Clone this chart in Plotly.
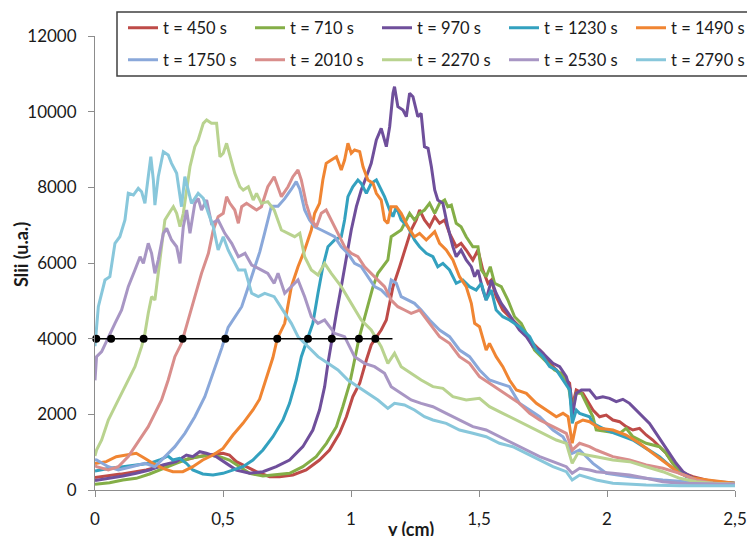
import plotly.graph_objects as go

# ---------------- data ----------------
times = ["450", "710", "970", "1230", "1490", "1750", "2010", "2270", "2530", "2790"]
colors = ["#BE4B48", "#84AE47", "#6F4F9B", "#33A1BF", "#F08532",
          "#8AA8DA", "#D98E8C", "#B9D38F", "#A896C4", "#88C7DB"]

x_450 = [0, 0.1, 0.2, 0.3, 0.35, 0.4, 0.45, 0.50, 0.525, 0.552, 0.591, 0.63, 0.682, 0.721, 0.773, 0.825, 0.877, 0.916,
         0.955, 0.982, 1.007, 1.034, 1.06, 1.079, 1.095, 1.118, 1.138, 1.164, 1.19, 1.216, 1.235, 1.255, 1.268, 1.287,
         1.307, 1.327, 1.346, 1.366, 1.385, 1.411, 1.43, 1.45, 1.476, 1.496, 1.515, 1.535, 1.548, 1.567, 1.593, 1.619,
         1.646, 1.672, 1.698, 1.724, 1.75, 1.776, 1.802, 1.828, 1.854, 1.864, 1.88, 1.906, 1.945, 1.971, 1.997, 2.023,
         2.049, 2.075, 2.101, 2.127, 2.153, 2.179, 2.205, 2.231, 2.257, 2.284, 2.336, 2.414, 2.5]
y_450 = [330, 420, 530, 700, 800, 880, 930, 970, 925, 749, 616, 484, 352, 352, 396, 529, 793, 1057,
         1498, 1937, 2466, 2820, 3436, 3832, 4000, 4229, 4493, 5374, 5902, 6430, 6872, 7136, 7400, 7136,
         6959, 7224, 7049, 7136, 6784, 6430, 6520, 6343, 6079, 6343, 5815, 5463, 5550, 5110, 4757, 4581,
         4405, 4229, 3964, 3788, 3613, 3348, 3172, 2995, 2820, 2202, 2643, 2555, 2114, 1937, 1982, 1850,
         1806, 1674, 1586, 1630, 1454, 1321, 1145, 970, 705, 484, 352, 220, 170]

x_710 = [0, 0.057, 0.109, 0.161, 0.213, 0.265, 0.317, 0.37, 0.409, 0.448, 0.487, 0.525, 0.565, 0.604, 0.656, 0.708,
         0.76, 0.812, 0.864, 0.904, 0.943, 0.968, 0.995, 1.014, 1.031, 1.047, 1.066, 1.086, 1.105, 1.125, 1.144, 1.157,
         1.177, 1.196, 1.216, 1.229, 1.248, 1.268, 1.287, 1.307, 1.327, 1.346, 1.366, 1.378, 1.392, 1.411, 1.43, 1.45,
         1.476, 1.496, 1.509, 1.528, 1.544, 1.561, 1.587, 1.613, 1.639, 1.665, 1.691, 1.717, 1.743, 1.769, 1.795, 1.822,
         1.848, 1.864, 1.88, 1.9, 1.919, 1.945, 1.958, 1.997, 2.049, 2.075, 2.101, 2.153, 2.205, 2.231, 2.257, 2.284,
         2.336, 2.414, 2.5]
y_710 = [150, 193, 264, 309, 423, 573, 705, 837, 881, 925, 881, 793, 616, 441, 370, 396,
         441, 616, 881, 1234, 1674, 2202, 2820, 3436, 4000, 4405, 4845, 5374, 5727, 5902, 6079, 6695,
         6784, 6872, 7136, 7313, 7136, 7313, 7400, 7577, 7313, 7577, 7665, 7488, 7532, 7049, 6959, 6695,
         6430, 6430, 5815, 5638, 5902, 5463, 5374, 5022, 4581, 4405, 4052, 3700, 3524, 3348, 3172, 3084,
         2820, 2114, 2555, 2555, 2291, 1937, 1586, 1542, 1498, 1630, 1409, 1234, 1145, 970, 705, 484,
         309, 220, 170]

x_970 = [0, 0.057, 0.109, 0.161, 0.213, 0.265, 0.317, 0.357, 0.382, 0.409, 0.435, 0.474, 0.513, 0.552, 0.604, 0.656,
         0.708, 0.76, 0.812, 0.851, 0.877, 0.897, 0.91, 0.925, 0.943, 0.962, 0.982, 1.001, 1.021, 1.04, 1.06, 1.079,
         1.099, 1.118, 1.138, 1.151, 1.164, 1.17, 1.183, 1.203, 1.216, 1.229, 1.242, 1.261, 1.274, 1.287, 1.301, 1.314,
         1.327, 1.339, 1.359, 1.378, 1.398, 1.411, 1.43, 1.45, 1.47, 1.483, 1.496, 1.515, 1.528, 1.548, 1.567, 1.587,
         1.606, 1.632, 1.658, 1.685, 1.711, 1.737, 1.763, 1.789, 1.815, 1.841, 1.857, 1.864, 1.88, 1.9, 1.932, 1.958,
         1.984, 2.01, 2.036, 2.062, 2.088, 2.114, 2.14, 2.166, 2.192, 2.218, 2.244, 2.27, 2.297, 2.336, 2.388, 2.5]
y_970 = [250, 309, 370, 441, 529, 661, 749, 925, 881, 1012, 970, 881, 705, 529, 441, 484,
         616, 793, 1145, 1586, 2114, 2731, 3348, 4000, 4670, 5374, 6166, 6872, 7488, 7929, 8281, 8634,
         9250, 9560, 9074, 9603, 10485, 10660, 10131, 10043, 9867, 10485, 10395, 9867, 9956, 9074, 9030, 8545,
         7929, 7665, 7577, 6959, 6430, 6166, 6343, 6079, 5902, 5638, 5815, 5286, 5022, 5550, 5199, 4934,
         4757, 4493, 4229, 4052, 3788, 3700, 3524, 3348, 3259, 2995, 2643, 1937, 2555, 2643, 2643, 2423,
         2466, 2423, 2334, 2397, 2291, 2114, 1937, 1762, 1498, 1234, 970, 705, 484, 309, 220, 180]

x_1230 = [0, 0.057, 0.109, 0.161, 0.213, 0.252, 0.285, 0.304, 0.33, 0.357, 0.382, 0.421, 0.461, 0.50, 0.539, 0.578,
          0.617, 0.656, 0.695, 0.734, 0.76, 0.786, 0.806, 0.832, 0.851, 0.871, 0.89, 0.91, 0.936, 0.962, 0.975, 0.988,
          1.007, 1.027, 1.04, 1.06, 1.079, 1.099, 1.112, 1.131, 1.151, 1.164, 1.177, 1.196, 1.222, 1.248, 1.268, 1.294,
          1.32, 1.339, 1.359, 1.385, 1.411, 1.437, 1.463, 1.489, 1.509, 1.528, 1.548, 1.567, 1.593, 1.619, 1.658, 1.698,
          1.724, 1.75, 1.776, 1.802, 1.828, 1.854, 1.864, 1.88, 1.893, 1.932, 1.945, 1.997, 2.049, 2.101, 2.153, 2.205,
          2.257, 2.31, 2.362, 2.5]
y_1230 = [500, 573, 616, 661, 705, 793, 899, 793, 837, 705, 529, 423, 396, 441, 529, 616,
          793, 1057, 1409, 1850, 2291, 2907, 3524, 4000, 4405, 5199, 5902, 6430, 6608, 6695, 7136, 7753,
          8016, 8193, 8106, 7842, 8106, 8193, 8016, 7753, 7400, 7224, 7488, 7136, 6959, 6608, 6430, 6256,
          6166, 5902, 5991, 5815, 5463, 5550, 5374, 5286, 5463, 5022, 5286, 4757, 4581, 4493, 4316, 4052,
          3700, 3524, 3259, 3172, 2907, 2643, 1762, 2114, 2026, 1937, 1762, 1586, 1454, 1321, 1100, 881,
          573, 352, 264, 180]

x_1490 = [0, 0.044, 0.083, 0.122, 0.161, 0.194, 0.226, 0.265, 0.304, 0.343, 0.382, 0.421, 0.461, 0.50, 0.539, 0.578,
          0.617, 0.643, 0.669, 0.695, 0.712, 0.741, 0.767, 0.793, 0.819, 0.845, 0.858, 0.877, 0.89, 0.903, 0.923, 0.943,
          0.962, 0.975, 0.988, 1.001, 1.014, 1.034, 1.047, 1.066, 1.086, 1.099, 1.118, 1.131, 1.144, 1.157, 1.177, 1.196,
          1.222, 1.248, 1.268, 1.294, 1.327, 1.346, 1.372, 1.398, 1.424, 1.45, 1.47, 1.483, 1.502, 1.528, 1.541, 1.567,
          1.593, 1.619, 1.646, 1.685, 1.724, 1.763, 1.802, 1.828, 1.848, 1.864, 1.88, 1.906, 1.932, 1.971, 2.023, 2.075,
          2.127, 2.179, 2.231, 2.284, 2.336, 2.388, 2.5]
y_1490 = [700, 749, 881, 925, 970, 837, 705, 573, 484, 484, 616, 793, 925, 1100, 1454, 1762,
          2114, 2400, 2950, 3500, 4000, 4405, 5374, 5902, 6343, 6872, 7313, 7577, 8193, 8634, 8722, 8809,
          8458, 8722, 9163, 8899, 8986, 8942, 8545, 8193, 8106, 7842, 7665, 7136, 7049, 7488, 7488, 7313,
          6959, 6695, 6784, 6608, 6827, 6520, 6343, 6079, 5638, 5374, 4934, 4405, 4316, 3700, 3877, 3524,
          3259, 2907, 2643, 2555, 2291, 2114, 1937, 2026, 1937, 1234, 1762, 1850, 1806, 1630, 1586, 1454,
          1234, 970, 705, 441, 309, 264, 180]

x_1750 = [0, 0.006, 0.052, 0.091, 0.143, 0.195, 0.234, 0.273, 0.312, 0.351, 0.39, 0.429, 0.468, 0.495, 0.52, 0.546,
          0.573, 0.599, 0.625, 0.644, 0.663, 0.689, 0.715, 0.741, 0.767, 0.786, 0.80, 0.819, 0.838, 0.858, 0.884, 0.91,
          0.936, 0.962, 0.988, 1.014, 1.04, 1.066, 1.092, 1.118, 1.144, 1.157, 1.177, 1.196, 1.222, 1.248, 1.274, 1.307,
          1.346, 1.385, 1.424, 1.463, 1.502, 1.541, 1.58, 1.619, 1.658, 1.698, 1.737, 1.789, 1.828, 1.864, 1.893, 1.932,
          1.945, 1.997, 2.088, 2.218, 2.349, 2.5]
y_1750 = [800, 793, 616, 529, 616, 705, 616, 881, 1145, 1498, 1937, 2466, 3200, 3750, 4300, 4581,
          4845, 5374, 5900, 6300, 6800, 7500, 7500, 7700, 7950, 8150, 7950, 7400, 7136, 6959, 6872, 6784,
          6695, 6430, 6256, 5991, 5902, 5638, 5374, 5286, 5110, 5550, 5463, 5110, 5022, 4934, 4757, 4493,
          4229, 4052, 3700, 3524, 3172, 2907, 2820, 2731, 2291, 2114, 1937, 1586, 1409, 970, 1057, 793,
          705, 441, 352, 264, 200, 150]

x_2010 = [0, 0.006, 0.052, 0.091, 0.13, 0.156, 0.182, 0.208, 0.234, 0.26, 0.286, 0.312, 0.338, 0.364, 0.39, 0.416,
          0.443, 0.462, 0.481, 0.501, 0.514, 0.527, 0.546, 0.56, 0.573, 0.592, 0.612, 0.631, 0.65, 0.675, 0.70, 0.728,
          0.754, 0.773, 0.793, 0.806, 0.825, 0.845, 0.865, 0.884, 0.903, 0.923, 0.949, 0.975, 1.001, 1.027, 1.053, 1.079,
          1.105, 1.131, 1.157, 1.183, 1.209, 1.235, 1.268, 1.307, 1.346, 1.385, 1.424, 1.463, 1.502, 1.541, 1.58, 1.619,
          1.658, 1.698, 1.737, 1.789, 1.841, 1.864, 1.893, 1.932, 1.958, 2.023, 2.088, 2.153, 2.218, 2.284, 2.349, 2.414,
          2.5]
y_2010 = [650, 616, 529, 616, 881, 1145, 1409, 1674, 2026, 2379, 2907, 3524, 3877, 4493, 5110, 5727,
          6256, 6872, 7224, 7313, 7753, 7577, 7400, 7049, 7488, 7577, 7488, 7400, 7488, 8016, 8281, 7753,
          8016, 8281, 8458, 8193, 7577, 7136, 6959, 7313, 7400, 7136, 6784, 6430, 6256, 6166, 5902, 5727,
          5550, 5374, 5022, 4845, 4757, 4670, 4757, 4405, 4052, 3877, 3524, 3348, 2995, 2820, 2643, 2466,
          2291, 2026, 1850, 1674, 1498, 1057, 1234, 1145, 1057, 881, 793, 661, 573, 441, 264, 177,
          150]

x_2270 = [0, 0.006, 0.026, 0.052, 0.078, 0.104, 0.13, 0.156, 0.182, 0.195, 0.208, 0.221, 0.234, 0.247, 0.26, 0.273,
          0.293, 0.306, 0.319, 0.332, 0.345, 0.358, 0.371, 0.39, 0.403, 0.423, 0.436, 0.455, 0.475, 0.488, 0.501, 0.514,
          0.527, 0.546, 0.566, 0.579, 0.599, 0.618, 0.631, 0.65, 0.675, 0.70, 0.728, 0.754, 0.78, 0.80, 0.819, 0.845,
          0.871, 0.897, 0.923, 0.962, 1.001, 1.04, 1.079, 1.118, 1.144, 1.17, 1.196, 1.235, 1.274, 1.32, 1.359, 1.398,
          1.45, 1.502, 1.541, 1.593, 1.646, 1.698, 1.75, 1.802, 1.841, 1.864, 1.886, 1.932, 1.958, 2.023, 2.088, 2.153,
          2.218, 2.284, 2.349, 2.414, 2.5]
y_2270 = [900, 1057, 1321, 1850, 2202, 2555, 2907, 3259, 3788, 4141, 4670, 5110, 5022, 5727, 6430, 7136,
          7356, 7488, 7313, 6959, 7313, 7929, 8545, 9074, 9250, 9692, 9779, 9692, 9692, 8809, 8899, 9163,
          8809, 8370, 8016, 7929, 8016, 7665, 7842, 7577, 7621, 7400, 6872, 6784, 6695, 6784, 6166, 5815,
          5682, 5991, 5727, 5374, 4934, 4493, 4229, 3788, 3348, 3613, 3259, 3084, 2907, 2731, 2688, 2466,
          2379, 2423, 2202, 2026, 1850, 1674, 1498, 1321, 1234, 705, 970, 925, 881, 793, 749, 616,
          484, 309, 220, 177, 150]

x_2530 = [0, 0.006, 0.026, 0.052, 0.078, 0.104, 0.13, 0.156, 0.176, 0.189, 0.208, 0.221, 0.234, 0.247, 0.267, 0.28,
          0.299, 0.319, 0.332, 0.345, 0.358, 0.371, 0.39, 0.403, 0.416, 0.436, 0.455, 0.481, 0.507, 0.534, 0.56, 0.586,
          0.612, 0.638, 0.65, 0.675, 0.70, 0.715, 0.741, 0.767, 0.793, 0.819, 0.845, 0.871, 0.897, 0.936, 0.975, 1.014,
          1.053, 1.092, 1.131, 1.157, 1.196, 1.235, 1.274, 1.32, 1.372, 1.424, 1.476, 1.528, 1.58, 1.632, 1.685, 1.737,
          1.789, 1.841, 1.864, 1.893, 1.932, 1.958, 2.023, 2.088, 2.153, 2.218, 2.284, 2.414, 2.5]
y_2530 = [2900, 3524, 3656, 4052, 4405, 4757, 5374, 5815, 6166, 5991, 6520, 6256, 5727, 6079, 6784, 6917,
          6608, 6430, 5991, 6959, 7400, 6784, 7577, 7710, 7400, 7665, 7049, 7136, 6784, 6520, 6166, 6256,
          5947, 5859, 5815, 5727, 5463, 5727, 5199, 5374, 5550, 5110, 4581, 4405, 4493, 4141, 4052, 3524,
          3348, 3259, 3084, 2731, 2555, 2379, 2291, 2202, 2026, 1850, 1674, 1586, 1409, 1234, 1057, 881,
          749, 616, 441, 573, 529, 484, 441, 396, 309, 220, 177, 159, 150]

x_2790 = [0, 0.013, 0.039, 0.058, 0.078, 0.097, 0.117, 0.13, 0.15, 0.169, 0.182, 0.195, 0.208, 0.218, 0.228, 0.234,
          0.247, 0.267, 0.286, 0.299, 0.319, 0.332, 0.338, 0.351, 0.364, 0.377, 0.403, 0.423, 0.443, 0.462, 0.481, 0.501,
          0.52, 0.56, 0.586, 0.612, 0.638, 0.663, 0.70, 0.741, 0.767, 0.793, 0.832, 0.871, 0.91, 0.949, 0.988, 1.027,
          1.066, 1.105, 1.144, 1.17, 1.209, 1.248, 1.287, 1.32, 1.372, 1.424, 1.476, 1.528, 1.58, 1.632, 1.685, 1.737,
          1.789, 1.841, 1.864, 1.893, 1.932, 1.958, 2.023, 2.153, 2.284, 2.5]
y_2790 = [3800, 4845, 5550, 5640, 6520, 6695, 7136, 7842, 7797, 7974, 7885, 7577, 8281, 8809, 8193, 7532,
          8281, 8942, 8854, 8634, 8370, 7665, 7488, 8281, 7929, 7577, 7842, 7710, 7313, 6959, 6343, 6695,
          6343, 5815, 5815, 5199, 5110, 5199, 5110, 4670, 4405, 4052, 3788, 3524, 3348, 3172, 2907, 2731,
          2555, 2379, 2158, 2291, 2247, 2114, 1937, 1850, 1762, 1586, 1498, 1409, 1234, 1144, 970, 793,
          616, 484, 264, 396, 309, 264, 177, 132, 114, 110]

# half-maximum positions marked on the black line at 4000
half_level = 4000
half_x = [0.005, 0.063, 0.19, 0.342, 0.509, 0.712, 0.832, 0.925, 1.031, 1.095]
half_line_x = [0, 1.162]

x_ticks = [0, 0.5, 1, 1.5, 2, 2.5]
x_ticktext = ["0", "0,5", "1", "1,5", "2", "2,5"]
y_ticks = [0, 2000, 4000, 6000, 8000, 10000, 12000]
y_ticktext = ["0", "2000", "4000", "6000", "8000", "10000", "12000"]

series_x = [x_450, x_710, x_970, x_1230, x_1490, x_1750, x_2010, x_2270, x_2530, x_2790]
series_y = [y_450, y_710, y_970, y_1230, y_1490, y_1750, y_2010, y_2270, y_2530, y_2790]

FONT = "Lato"
TXT = "#1a1a1a"

fig = go.Figure()
for i, (t, c, xs, ys) in enumerate(zip(times, colors, series_x, series_y)):
    fig.add_trace(go.Scatter(
        x=xs, y=ys, mode="lines", name=f"t = {t} s",
        line=dict(color=c, width=3),
        legend="legend" if i < 5 else "legend2",
    ))

fig.add_trace(go.Scatter(
    x=half_line_x, y=[half_level] * len(half_line_x), mode="lines",
    line=dict(color="black", width=1.5), showlegend=False, hoverinfo="skip"))
fig.add_trace(go.Scatter(
    x=half_x, y=[half_level] * len(half_x), mode="markers",
    marker=dict(color="black", size=8), showlegend=False, cliponaxis=False))

W, H = 747, 536
L, R, T, B = 95, 12, 36, 46
pw, ph = W - L - R, H - T - B


def px_x(p):
    return (p - L) / pw


def px_y(p):
    return (H - B - p) / ph


legend_common = dict(
    orientation="h", xanchor="left", yanchor="middle",
    bgcolor="rgba(0,0,0,0)", borderwidth=0,
    font=dict(family=FONT, size=16.5, color=TXT),
    entrywidth=82, entrywidthmode="pixels", itemwidth=30,
    traceorder="normal",
)

fig.update_layout(
    width=W, height=H,
    margin=dict(l=L, r=R, t=T, b=B, autoexpand=False),
    paper_bgcolor="white", plot_bgcolor="white",
    font=dict(family=FONT, size=17, color=TXT),
    showlegend=True,
    legend=dict(x=px_x(123), y=px_y(28), **legend_common),
    legend2=dict(x=px_x(123), y=px_y(60), **legend_common),
    xaxis=dict(range=[0, 2.5], showgrid=False, zeroline=False,
               showline=True, linecolor="#8c8c8c", linewidth=1,
               ticks="outside", ticklen=6, tickcolor="#8c8c8c",
               tickvals=x_ticks, ticktext=x_ticktext,
               tickfont=dict(family=FONT, size=17, color=TXT),
               ticklabelstandoff=8),
    yaxis=dict(range=[0, 12000], showgrid=False, zeroline=False,
               showline=True, linecolor="#8c8c8c", linewidth=1,
               ticks="outside", ticklen=6, tickcolor="#8c8c8c",
               tickvals=y_ticks, ticktext=y_ticktext,
               tickfont=dict(family=FONT, size=17, color=TXT),
               ticklabelstandoff=8),
    shapes=[dict(type="rect", xref="paper", yref="paper",
                 x0=px_x(117), x1=px_x(775), y0=px_y(76), y1=px_y(12),
                 line=dict(color="#404040", width=1.5), fillcolor="white",
                 layer="below")],
    annotations=[
        dict(text="<b>Slii (u.a.)</b>", xref="paper", yref="paper",
             x=px_x(21), y=px_y(255), textangle=-90, showarrow=False,
             font=dict(family=FONT, size=18, color=TXT),
             xanchor="center", yanchor="middle"),
        dict(text="<b>y (cm)</b>", xref="paper", yref="paper",
             x=px_x(411), y=px_y(529), showarrow=False,
             font=dict(family=FONT, size=18, color=TXT),
             xanchor="center", yanchor="middle"),
    ],
)

fig.write_html("out.html", config={"displayModeBar": False},
               post_script="document.body.style.margin='0px';")
